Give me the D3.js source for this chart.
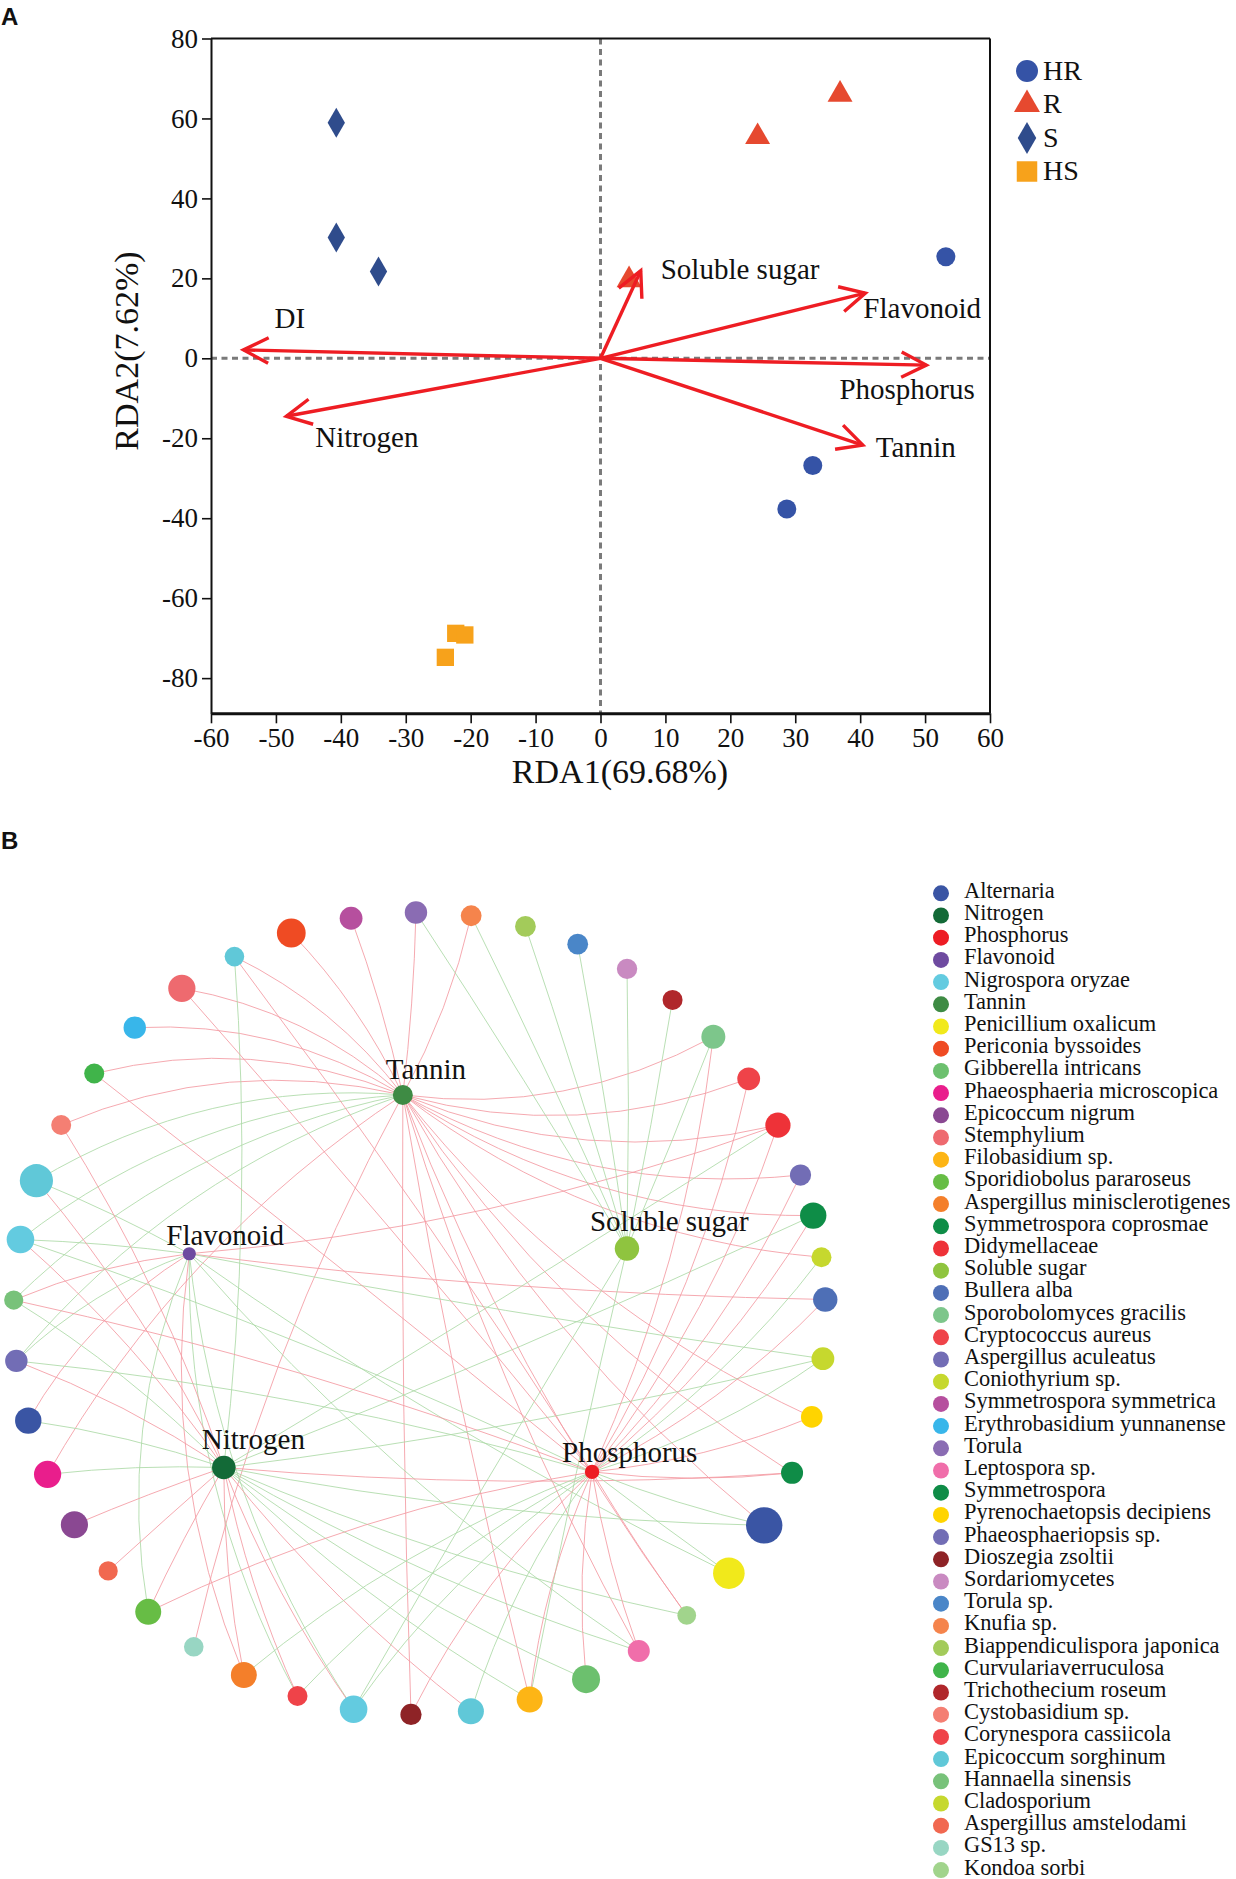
<!DOCTYPE html>
<html>
<head>
<meta charset="utf-8">
<script src="https://cdnjs.cloudflare.com/ajax/libs/d3/7.8.5/d3.min.js"></script>
<style>
  body { margin: 0; background: #fff; }
  svg { display: block; }
  text { font-family: "Liberation Serif", "Times New Roman", serif; fill: #111; }
  .tag { font-family: "Liberation Sans", Arial, sans-serif; font-weight: bold; font-size: 24px; }
</style>
</head>
<body>
<div id="chart"></div>
<script>
// ================= panel A data : RDA ordination =================
var groupNames = ["HR", "R", "S", "HS"];
var hrX = [53.2, 32.7, 28.7];
var hrY = [25.4, -26.8, -37.7];
var rX = [36.9, 24.2, 4.4];
var rY = [66.0, 55.4, 19.6];
var sX = [-40.7, -40.7, -34.2];
var sY = [58.9, 30.2, 21.7];
var hsX = [-22.3, -20.9, -23.9];
var hsY = [-68.8, -69.2, -74.8];

// environmental vectors (arrow tips)
var envNames = ["DI", "Nitrogen", "Soluble sugar", "Flavonoid", "Phosphorus", "Tannin"];
var envX = [-55.0, -48.4, 6.2, 40.8, 50.2, 40.4];
var envY = [2.1, -14.5, 21.9, 16.3, -1.7, -21.7];

var xTicks = [-60, -50, -40, -30, -20, -10, 0, 10, 20, 30, 40, 50, 60];
var yTicks = [-80, -60, -40, -20, 0, 20, 40, 60, 80];

// ================= panel B data : correlation network =================
var legendTaxa = ["Alternaria", "Nitrogen", "Phosphorus", "Flavonoid", "Nigrospora oryzae", "Tannin",
  "Penicillium oxalicum", "Periconia byssoides", "Gibberella intricans", "Phaeosphaeria microscopica",
  "Epicoccum nigrum", "Stemphylium", "Filobasidium sp.", "Sporidiobolus pararoseus",
  "Aspergillus minisclerotigenes", "Symmetrospora coprosmae", "Didymellaceae", "Soluble sugar",
  "Bullera alba", "Sporobolomyces gracilis", "Cryptococcus aureus", "Aspergillus aculeatus",
  "Coniothyrium sp.", "Symmetrospora symmetrica", "Erythrobasidium yunnanense", "Torula",
  "Leptospora sp.", "Symmetrospora", "Pyrenochaetopsis decipiens", "Phaeosphaeriopsis sp.",
  "Dioszegia zsoltii", "Sordariomycetes", "Torula sp.", "Knufia sp.", "Biappendiculispora japonica",
  "Curvulariaverruculosa", "Trichothecium roseum", "Cystobasidium sp.", "Corynespora cassiicola",
  "Epicoccum sorghinum", "Hannaella sinensis", "Cladosporium", "Aspergillus amstelodami",
  "GS13 sp.", "Kondoa sorbi"];
var legendColors = ["#3a55a4", "#136a37", "#ed1c24", "#6e4aa0", "#63cbe0", "#3e8b44",
  "#f1e91b", "#ef4b23", "#6cc06e", "#e91e8c",
  "#8a4892", "#ee6a6f", "#fdb515", "#67bd45",
  "#f47f2a", "#0e8d47", "#ee3238", "#8fc43f",
  "#4e6fb6", "#7dc68b", "#ef4349", "#726db5",
  "#c6d82e", "#b64f9e", "#38b6ea", "#8a6cb3",
  "#f06eaa", "#0f8c47", "#ffd400", "#726db5",
  "#8e2326", "#c98ac1", "#4a86c8", "#f5844c", "#a3cb5a",
  "#40b44a", "#b0272b", "#f47f73", "#ef4349",
  "#60c8d8", "#78c27a", "#c6d82e", "#f16850",
  "#98d6c3", "#a1d48c"];

// outer ring, clockwise from the top
var ringTaxa = ["Torula", "Knufia sp.", "Biappendiculispora japonica", "Torula sp.", "Sordariomycetes",
  "Trichothecium roseum", "Sporobolomyces gracilis", "Cryptococcus aureus", "Didymellaceae",
  "Aspergillus aculeatus", "Symmetrospora coprosmae", "Coniothyrium sp.", "Bullera alba",
  "Cladosporium", "Pyrenochaetopsis decipiens", "Symmetrospora", "Alternaria", "Penicillium oxalicum",
  "Kondoa sorbi", "Leptospora sp.", "Gibberella intricans", "Filobasidium sp.", "Epicoccum sorghinum",
  "Dioszegia zsoltii", "Nigrospora oryzae", "Corynespora cassiicola", "Aspergillus minisclerotigenes",
  "GS13 sp.", "Sporidiobolus pararoseus", "Aspergillus amstelodami", "Epicoccum nigrum",
  "Phaeosphaeria microscopica", "Alternaria", "Phaeosphaeriopsis sp.", "Hannaella sinensis",
  "Nigrospora oryzae", "Epicoccum sorghinum", "Cystobasidium sp.", "Curvulariaverruculosa",
  "Erythrobasidium yunnanense", "Stemphylium", "Epicoccum sorghinum", "Periconia byssoides",
  "Symmetrospora symmetrica"];
var ringWeight = [56, 52, 52, 52, 51, 50, 60, 57, 63, 53, 66, 50, 61, 57, 54, 55, 91, 79,
  47, 55, 70, 65, 65, 53, 69, 50, 65, 49, 65, 48, 68, 68, 66, 56, 48, 69, 83, 50, 50, 56, 68, 49, 72, 57];

var hubNames = ["Tannin", "Flavonoid", "Soluble sugar", "Nitrogen", "Phosphorus"];
var hubWeight = [50, 33, 61, 59, 36];

// links: ring node index per hub, positive (red) and negative (green)
var tanninPos = [0, 1, 6, 7, 8, 9, 10, 11, 14, 15, 16, 18, 19, 21, 23, 27, 31, 37, 38, 39, 40, 41, 42, 43];
var tanninNeg = [33, 34, 35, 36];
var flavonoidPos = [8, 12, 26, 32, 34];
var flavonoidNeg = [13, 17, 19, 24, 25, 28, 33, 35, 36];
var sugarPos = [];
var sugarNeg = [0, 1, 2, 3, 4, 5, 6, 21, 24];
var nitrogenPos = [15, 22, 24, 25, 26, 28, 29, 30, 33, 35, 36, 37];
var nitrogenNeg = [8, 10, 13, 16, 18, 19, 20, 21, 31, 32, 34, 41];
var phosphorusPos = [6, 7, 8, 9, 10, 12, 14, 15, 18, 19, 20, 21, 23, 28, 34, 38, 40, 41];
var phosphorusNeg = [11, 13, 16, 17, 22, 24, 25, 26, 33, 35];

// ========================================================
var svgWidth = 1236;
var svgHeight = 1879;

var svg = d3.select("#chart")
  .append("svg")
  .attr("width", svgWidth)
  .attr("height", svgHeight);

var serif = "'Liberation Serif', 'Times New Roman', serif";

// ---------------- panel A ----------------
var plotA = { left: 211, right: 990, top: 38.5, bottom: 713.3 };

var xScale = d3.scaleLinear().domain([-60, 60]).range([plotA.left, plotA.right]);
var yScale = d3.scaleLinear().domain([-88.8, 80]).range([plotA.bottom, plotA.top]);

svg.append("text").attr("class", "tag").attr("x", 1).attr("y", 25).text("A");

var gA = svg.append("g");

// dashed zero lines
gA.append("line")
  .attr("x1", xScale(-60)).attr("x2", xScale(60))
  .attr("y1", yScale(0)).attr("y2", yScale(0))
  .attr("stroke", "#7a7a7a").attr("stroke-width", 3).attr("stroke-dasharray", "6,4.5");
gA.append("line")
  .attr("x1", xScale(0)).attr("x2", xScale(0))
  .attr("y1", yScale(80)).attr("y2", yScale(-88.8))
  .attr("stroke", "#7a7a7a").attr("stroke-width", 3).attr("stroke-dasharray", "6,4.5");

// frame: top and right border
gA.append("line").attr("x1", plotA.left).attr("x2", plotA.right)
  .attr("y1", plotA.top).attr("y2", plotA.top).attr("stroke", "#111").attr("stroke-width", 2);
gA.append("line").attr("x1", plotA.right).attr("x2", plotA.right)
  .attr("y1", plotA.top).attr("y2", plotA.bottom).attr("stroke", "#111").attr("stroke-width", 2);

var bottomAxis = d3.axisBottom(xScale).tickValues(xTicks).tickSize(10).tickPadding(5)
  .tickSizeOuter(0).tickFormat(d => String(d));
var leftAxis = d3.axisLeft(yScale).tickValues(yTicks).tickSize(9).tickPadding(4)
  .tickSizeOuter(0).tickFormat(d => String(d));

var xAxisG = gA.append("g")
  .attr("transform", `translate(0, ${plotA.bottom})`)
  .call(bottomAxis);
var yAxisG = gA.append("g")
  .attr("transform", `translate(${plotA.left}, 0)`)
  .call(leftAxis);

[xAxisG, yAxisG].forEach(function(g) {
  g.attr("font-family", serif).attr("font-size", 27);
  g.selectAll("text").attr("fill", "#111");
  g.selectAll("line").attr("stroke", "#111").attr("stroke-width", 1.6);
});
xAxisG.select(".domain").attr("stroke", "#111").attr("stroke-width", 3);
yAxisG.select(".domain").attr("stroke", "#111").attr("stroke-width", 2);

// axis titles
gA.append("text")
  .attr("x", 620).attr("y", 783)
  .attr("text-anchor", "middle")
  .attr("font-size", 34)
  .text("RDA1(69.68%)");
gA.append("text")
  .attr("transform", "translate(138, 351) rotate(-90)")
  .attr("text-anchor", "middle")
  .attr("font-size", 34)
  .text("RDA2(7.62%)");

// sample points
var groupStyle = {
  HR: { shape: d3.symbolCircle, size: 283, color: "#3553a6", legendSize: 380 },
  R: { shape: d3.symbolTriangle, size: 270, color: "#e6492f", legendSize: 292 },
  S: { shape: d3.symbolDiamond, size: 260, color: "#2f4c8c", legendSize: 296 },
  HS: { shape: d3.symbolSquare, size: 300, color: "#f7a21b", legendSize: 420 }
};

var samples = [];
[[hrX, hrY, "HR"], [rX, rY, "R"], [sX, sY, "S"], [hsX, hsY, "HS"]].forEach(function(s) {
  s[0].forEach(function(v, i) {
    samples.push({ x: v, y: s[1][i], group: s[2] });
  });
});

gA.selectAll("path.sample")
  .data(samples)
  .enter()
  .append("path")
  .attr("class", "sample")
  .attr("transform", d => `translate(${xScale(d.x)}, ${yScale(d.y)})`)
  .attr("d", d => d3.symbol().type(groupStyle[d.group].shape).size(groupStyle[d.group].size)())
  .attr("fill", d => groupStyle[d.group].color);

// arrows
var envVectors = envNames.map(function(n, i) { return { name: n, x: envX[i], y: envY[i] }; });
// label offsets from the arrow tip, px
var envLabelOffset = {
  "DI": [31, -22], "Nitrogen": [29, 31], "Soluble sugar": [20, 8],
  "Flavonoid": [-2, 25], "Phosphorus": [-87, 34], "Tannin": [13, 12]
};
var arrowRed = "#ee1d23";
var headLen = 28, headAng = 27 * Math.PI / 180;

var arrows = gA.selectAll("g.arrow")
  .data(envVectors)
  .enter()
  .append("g")
  .attr("class", "arrow");

arrows.append("line")
  .attr("x1", xScale(0)).attr("y1", yScale(0))
  .attr("x2", d => xScale(d.x)).attr("y2", d => yScale(d.y))
  .attr("stroke", arrowRed).attr("stroke-width", 3.4);

arrows.append("path")
  .attr("d", function(d) {
    var tx = xScale(d.x), ty = yScale(d.y);
    var a = Math.atan2(ty - yScale(0), tx - xScale(0));
    var p1 = [tx - headLen * Math.cos(a - headAng), ty - headLen * Math.sin(a - headAng)];
    var p2 = [tx - headLen * Math.cos(a + headAng), ty - headLen * Math.sin(a + headAng)];
    return `M${p1[0]},${p1[1]}L${tx},${ty}L${p2[0]},${p2[1]}`;
  })
  .attr("fill", "none")
  .attr("stroke", arrowRed).attr("stroke-width", 3.4)
  .attr("stroke-linejoin", "miter");

arrows.append("text")
  .attr("x", d => xScale(d.x) + envLabelOffset[d.name][0])
  .attr("y", d => yScale(d.y) + envLabelOffset[d.name][1])
  .attr("font-size", 29)
  .text(d => d.name);

// legend A
var legA = gA.append("g").attr("transform", "translate(1027, 71)");
var legRows = legA.selectAll("g")
  .data(groupNames)
  .enter()
  .append("g")
  .attr("transform", (d, i) => `translate(0, ${i * 33.5})`);
legRows.append("path")
  .attr("d", d => d3.symbol().type(groupStyle[d].shape).size(groupStyle[d].legendSize)())
  .attr("fill", d => groupStyle[d].color);
legRows.append("text")
  .attr("x", 16).attr("y", 8.5)
  .attr("font-size", 28)
  .text(d => d);

// ---------------- panel B ----------------
svg.append("text").attr("class", "tag").attr("x", 1).attr("y", 849).text("B");

var ringCx = 419.5, ringCy = 1313.5;
var bx = d3.scaleLinear().domain([-1, 1]).range([ringCx - 406, ringCx + 406]);
var by = d3.scaleLinear().domain([-1, 1]).range([ringCy - 401, ringCy + 401]);
// node order -> angle (degrees from top, clockwise); spacing is not quite even in the figure
var ringAngle = d3.scaleLinear()
  .domain([0, 9, 12, 23, 32, 43])
  .range([-0.5, 69.8, 88, 181.2, 254.5, 350.3]);
var radius = d3.scaleLinear().domain([0, 100]).range([0, 20]);
var colorOf = d3.scaleOrdinal().domain(legendTaxa).range(legendColors);

// hub layout inside the ring, in ring units
var hubLayout = {
  "Tannin": [-0.041, -0.545], "Flavonoid": [-0.567, -0.149], "Soluble sugar": [0.511, -0.162],
  "Nitrogen": [-0.482, 0.384], "Phosphorus": [0.425, 0.395]
};
var hubLabelOffset = {
  "Tannin": [-17, -16], "Flavonoid": [-23, -9], "Soluble sugar": [-37, -18],
  "Nitrogen": [-22, -18], "Phosphorus": [-30, -10]
};
// how much the edges of each hub bend
var hubBend = { "Tannin": 0.3, "Flavonoid": 0.25, "Soluble sugar": 0.02, "Nitrogen": 0.1, "Phosphorus": 0.15 };

var ringNodes = ringTaxa.map(function(t, i) {
  var a = ringAngle(i) * Math.PI / 180;
  return { name: t, x: bx(Math.sin(a)), y: by(-Math.cos(a)), r: radius(ringWeight[i]) };
});
var hubNodes = hubNames.map(function(t, i) {
  return { name: t, x: bx(hubLayout[t][0]), y: by(hubLayout[t][1]), r: radius(hubWeight[i]) };
});

var links = [];
[[tanninPos, tanninNeg], [flavonoidPos, flavonoidNeg], [sugarPos, sugarNeg],
 [nitrogenPos, nitrogenNeg], [phosphorusPos, phosphorusNeg]].forEach(function(pair, h) {
  pair[0].forEach(function(i) { links.push({ source: ringNodes[i], target: hubNodes[h], sign: 1 }); });
  pair[1].forEach(function(i) { links.push({ source: ringNodes[i], target: hubNodes[h], sign: -1 }); });
});

// slightly curved edges, bent more when they run across the ring
function edgePath(d) {
  var o = d.source, h = d.target;
  var dx = h.x - o.x, dy = h.y - o.y, L = Math.hypot(dx, dy);
  var rx = ringCx - o.x, ry = ringCy - o.y, rl = Math.hypot(rx, ry);
  var s = Math.abs((dx * ry - dy * rx) / (L * rl));
  var k = hubBend[h.name] * s * L;
  var mx = (o.x + h.x) / 2 + dy / L * k;
  var my = (o.y + h.y) / 2 - dx / L * k;
  return `M${o.x},${o.y}Q${mx},${my} ${h.x},${h.y}`;
}

var gB = svg.append("g");

gB.selectAll("path.link")
  .data(links)
  .enter()
  .append("path")
  .attr("class", "link")
  .attr("d", edgePath)
  .attr("fill", "none")
  .attr("stroke", d => d.sign > 0 ? "#f39aa2" : "#add9a7")
  .attr("stroke-width", 1)
  .attr("stroke-opacity", 0.85);

gB.selectAll("circle.ring")
  .data(ringNodes)
  .enter()
  .append("circle")
  .attr("class", "ring")
  .attr("cx", d => d.x).attr("cy", d => d.y).attr("r", d => d.r)
  .attr("fill", d => colorOf(d.name));

gB.selectAll("circle.hub")
  .data(hubNodes)
  .enter()
  .append("circle")
  .attr("class", "hub")
  .attr("cx", d => d.x).attr("cy", d => d.y).attr("r", d => d.r)
  .attr("fill", d => colorOf(d.name));

gB.selectAll("text.hub")
  .data(hubNodes)
  .enter()
  .append("text")
  .attr("class", "hub")
  .attr("x", d => d.x + hubLabelOffset[d.name][0])
  .attr("y", d => d.y + hubLabelOffset[d.name][1])
  .attr("font-size", 29)
  .text(d => d.name);

// legend B
var legB = svg.append("g").attr("transform", "translate(941, 893.3)");
var legBRows = legB.selectAll("g")
  .data(legendTaxa)
  .enter()
  .append("g")
  .attr("transform", (d, i) => `translate(0, ${i * 22.2})`);
legBRows.append("circle").attr("r", 8).attr("fill", d => colorOf(d));
legBRows.append("text")
  .attr("x", 23).attr("y", 4.5)
  .attr("font-size", 22.4)
  .text(d => d);
</script>
</body>
</html>
